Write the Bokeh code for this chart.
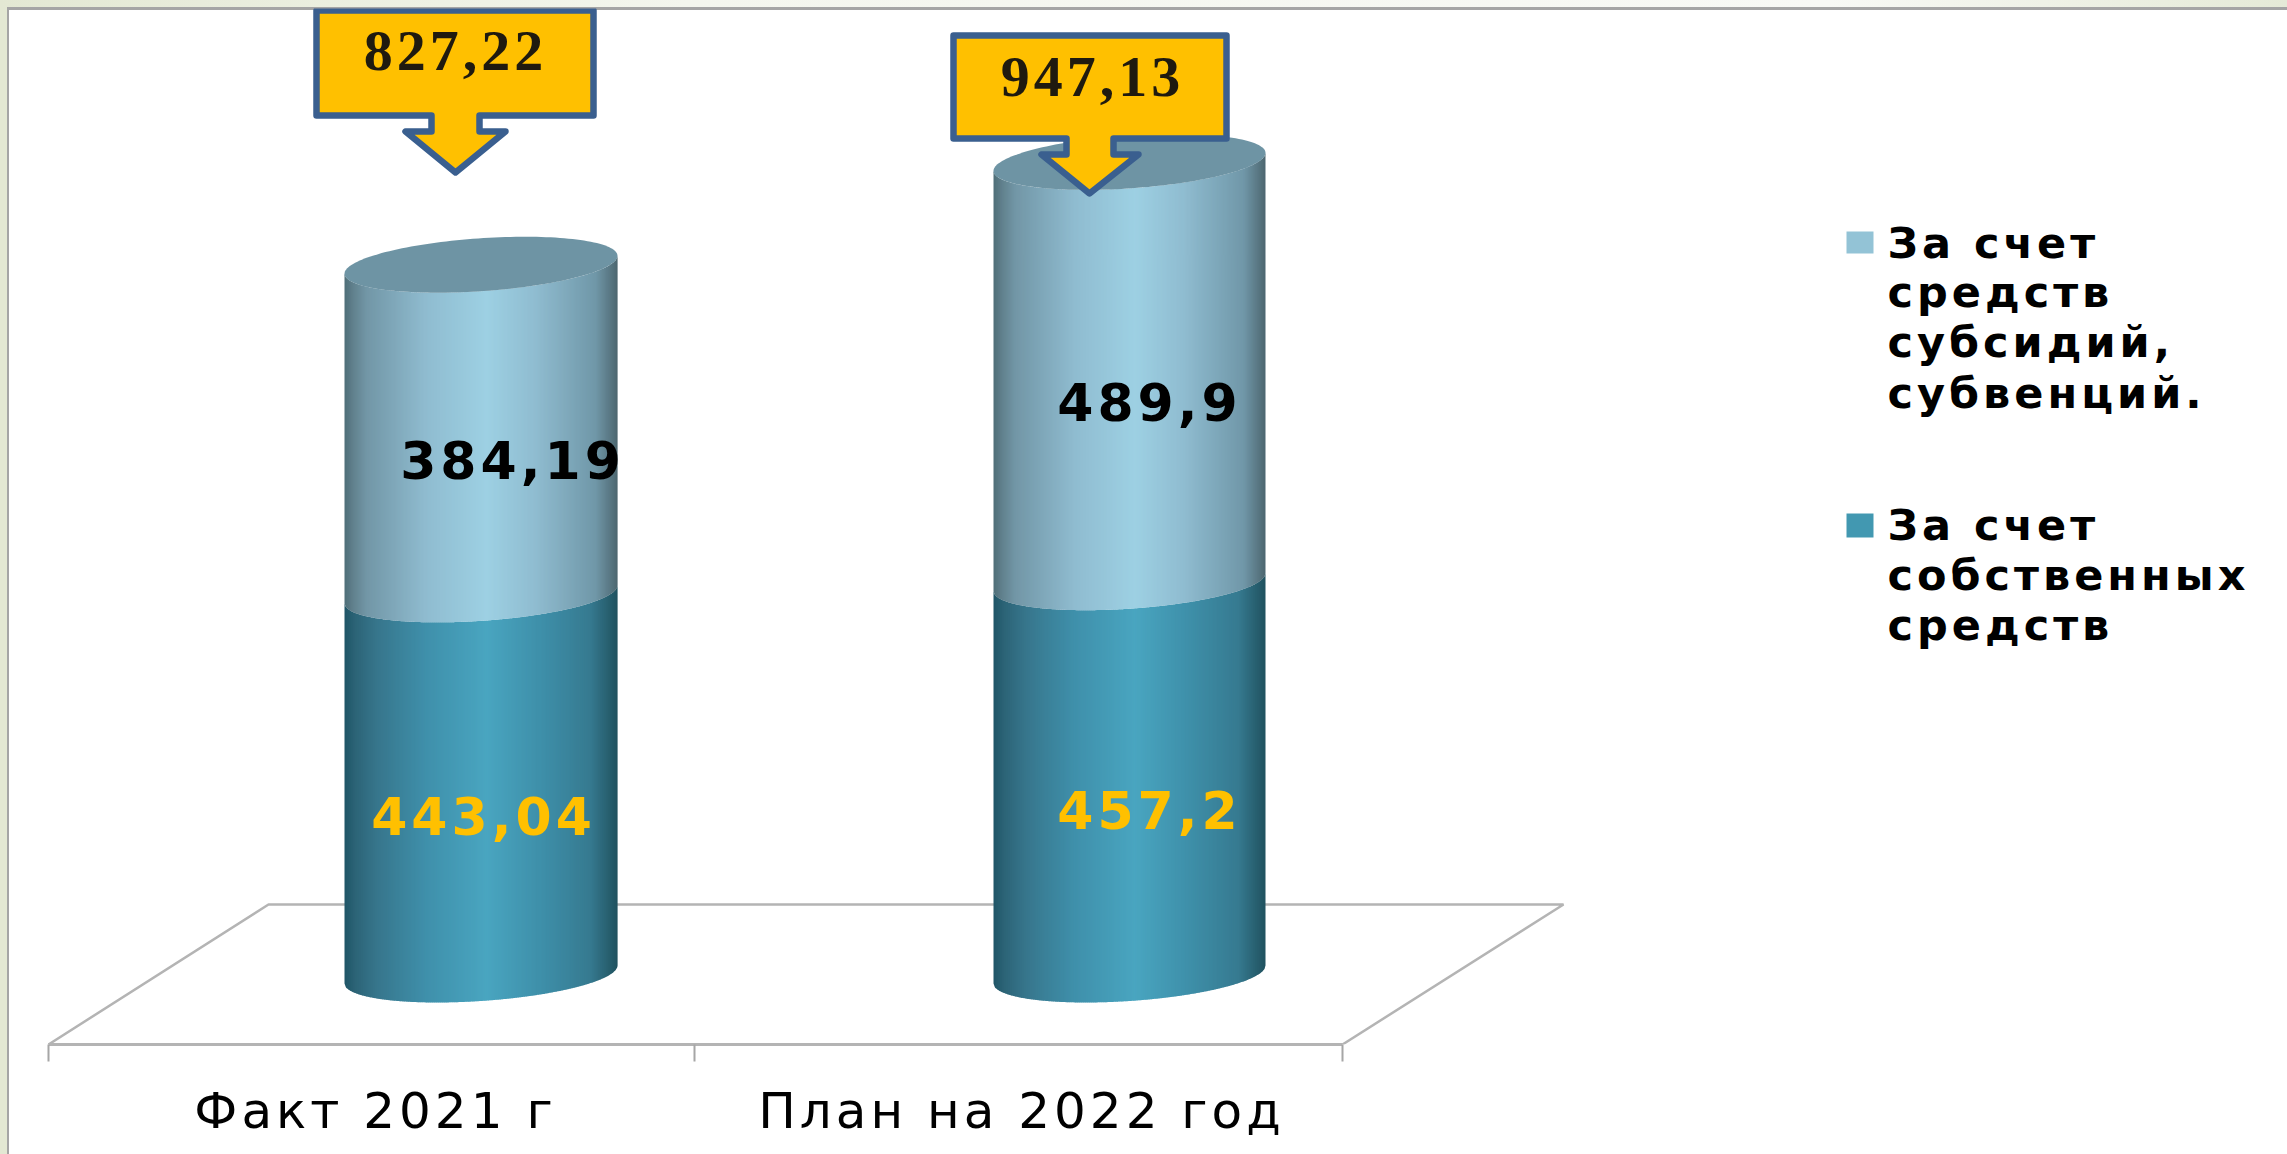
import numpy as np
from bokeh.core.properties import value
from bokeh.embed import file_html
from bokeh.models import FixedTicker, Range1d
from bokeh.plotting import figure
from bokeh.resources import INLINE

# ---------- data ----------
categories = ["Факт 2021 г", "План на 2022 год"]
own_funds = [443.04, 457.2]
subsidies = [384.19, 489.9]
totals = [827.22, 947.13]
own_labels = ["443,04", "457,2"]
subsidy_labels = ["384,19", "489,9"]
total_labels = ["827,22", "947,13"]
legend_subsidies = ["За счет", "средств", "субсидий,", "субвенций."]
legend_own = ["За счет", "собственных", "средств"]

# ---------- layout (page pixels) ----------
W, H = 2271, 1138
FRAME_TOP, FRAME_BOTTOM = 8, 1044
ZERO_PX, PX_PER_UNIT = 974, 0.858


def v(px):
    return (ZERO_PX - np.asarray(px, dtype=float)) / PX_PER_UNIT


p = figure(
    width=W, height=H, output_backend="svg", toolbar_location=None,
    x_range=Range1d(8, 8 + W), y_range=Range1d(float(v(FRAME_BOTTOM)), float(v(FRAME_TOP))),
    min_border_left=0, min_border_right=0, min_border_top=0, min_border_bottom=102,
    background_fill_color=None, border_fill_color=None, outline_line_color=None,
)
p.grid.visible = False
p.yaxis.visible = False

# category axis: labels at group centres, ticks at group boundaries
LABEL_X = [353, 989]
ax = p.xaxis[0]
ax.ticker = FixedTicker(ticks=LABEL_X, minor_ticks=[48, 694, 1342])
ax.major_label_overrides = {LABEL_X[0]: categories[0], LABEL_X[1]: categories[1]}
ax.major_tick_out = 0
ax.major_tick_in = 0
ax.minor_tick_out = 17
ax.minor_tick_in = 0
ax.minor_tick_line_color = "#a6a6a6"
ax.minor_tick_line_width = 2
ax.axis_line_color = "#b4b4b4"
ax.axis_line_width = 3
ax.bounds = (48, 1342)
ax.major_label_standoff = 20
ax.major_label_text_font = "DejaVu Sans"
ax.major_label_text_font_size = "50px"
ax.major_label_text_color = "#000000"

# floor of the 3D plot
p.line([48, 268, 1563, 1342], v([1044, 904, 904, 1044]), line_color="#b4b4b4", line_width=2.5)

LIGHT = [(0, "#4f6e78"), (.03, "#60808c"), (.08, "#7296a6"), (.3, "#8fbcd0"), (.52, "#9dd0e3"),
         (.7, "#8fbcd0"), (.92, "#7097a8"), (.98, "#56737e"), (1, "#4c666f")]
DARK = [(0, "#1f5566"), (.04, "#2c6477"), (.12, "#37768c"), (.3, "#3f90ab"), (.52, "#49a5c0"),
        (.72, "#3e8fa9"), (.9, "#367a90"), (1, "#20525f")]
TOP_COLOR = "#6e94a4"


def ramp(stops, t):
    pos = [s[0] for s in stops]
    chans = [[int(s[1][i:i + 2], 16) for s in stops] for i in (1, 3, 5)]
    return "#%02x%02x%02x" % tuple(int(round(np.interp(t, pos, c))) for c in chans)


CYL_X = [(344, 617), (993, 1265)]
SEMI_MINOR, HALF_RISE = 26.5, 9.0


def front_edge(dx, a, level):
    """Front rim of a slanted ellipse at a given data value; returned in data units."""
    off = -HALF_RISE * dx / a + SEMI_MINOR * np.sqrt(np.clip(1 - (dx / a) ** 2, 0, 1))
    return level - off / PX_PER_UNIT


def back_edge(dx, a, level):
    off = -HALF_RISE * dx / a - SEMI_MINOR * np.sqrt(np.clip(1 - (dx / a) ** 2, 0, 1))
    return level - off / PX_PER_UNIT


def band(x0, x1, lo, hi, stops, step=2.0):
    a, c = (x1 - x0) / 2, (x0 + x1) / 2
    xs, ys, cols = [], [], []
    for left in np.arange(x0, x1, step):
        right = min(left + step + 0.7, x1)
        xx = np.linspace(left, right, 3)
        dx = xx - c
        bottom = front_edge(dx, a, lo)
        top = front_edge(dx, a, hi)
        xs.append(list(xx) + list(xx[::-1]))
        ys.append(list(bottom) + list(top[::-1]))
        cols.append(ramp(stops, (left + step / 2 - x0) / (x1 - x0)))
    p.patches(xs, ys, fill_color=cols, line_color=None)


for (x0, x1), own, sub in zip(CYL_X, own_funds, subsidies):
    band(x0, x1, 0, own, DARK)
    band(x0, x1, own, own + sub, LIGHT)
    a, c = (x1 - x0) / 2, (x0 + x1) / 2
    dx = a * np.cos(np.linspace(np.pi, 0, 80))
    top = own + sub
    p.patch(np.r_[c + dx, c + dx[::-1]],
            np.r_[back_edge(dx, a, top), front_edge(dx[::-1], a, top)],
            fill_color=TOP_COLOR, line_color=None)

# value labels inside the cylinders
p.text([471, 1139], v([815, 809]), text=own_labels, text_color="#ffc000",
       text_font=value("DejaVu Sans"), text_font_style="bold", text_font_size="52px",
       text_align="center", text_baseline="middle")
p.text([500, 1139], v([459, 401]), text=subsidy_labels, text_color="#000000",
       text_font=value("DejaVu Sans"), text_font_style="bold", text_font_size="52px",
       text_align="center", text_baseline="middle")


# callouts with the totals
def callout(x0, x1, y0, y1, s0, s1, sh, h0, h1, tx, ty):
    xs = [x0, x1, x1, s1, s1, h1, tx, h0, s0, s0, x0]
    ys = [y0, y0, y1, y1, sh, sh, ty, sh, sh, y1, y1]
    p.patch(xs, v(ys), fill_color="#ffc000", line_color="#3a5f8f", line_width=6.5, line_join="round")


callout(316, 593, 10, 115, 431, 479, 131, 405, 505, 455, 172)
callout(953, 1226, 35, 138, 1066, 1113, 154, 1041, 1138, 1089, 193)
p.text([443, 1080], v([50, 76]), text=total_labels, text_color="#1f1a0f",
       text_font=value("Liberation Serif"), text_font_style="bold", text_font_size="58px",
       text_align="center", text_baseline="middle")

# legend
p.quad(left=[1846, 1846], right=[1873, 1873], top=v([231, 513]), bottom=v([253, 537]),
       fill_color=["#93c3d6", "#4298b1"], line_color=None)
leg_text = legend_subsidies + legend_own
leg_mid = [242, 291.5, 341.5, 392, 524.5, 574, 624]
p.text([1887] * len(leg_text), v(leg_mid), text=leg_text, text_color="#000000",
       text_font=value("DejaVu Sans"), text_font_style="bold", text_font_size="43px",
       text_align="left", text_baseline="middle")

# slide background strips behind the transparent plot; the source text is tracked wide
CSS = ("margin:8px;letter-spacing:4px;background-color:#fff;background-repeat:no-repeat;"
       "background-image:linear-gradient(#a5a5a5,#a5a5a5),linear-gradient(#a5a5a5,#a5a5a5),"
       "linear-gradient(90deg,#e3e8d3 0%,#f4f6ee 30%,#f8f9f5 80%,#e5ead7 100%),linear-gradient(#e3e8d3,#e3e8d3);"
       "background-size:100% 3px,2px 100%,100% 7px,7px 100%;"
       "background-position:7px 7px,7px 7px,0 0,0 0;")
html = file_html(p, INLINE)
i = html.rfind("<body>")
html = html[:i] + f'<body style="{CSS}">' + html[i + len("<body>"):]
open("out.html", "w").write(html)
